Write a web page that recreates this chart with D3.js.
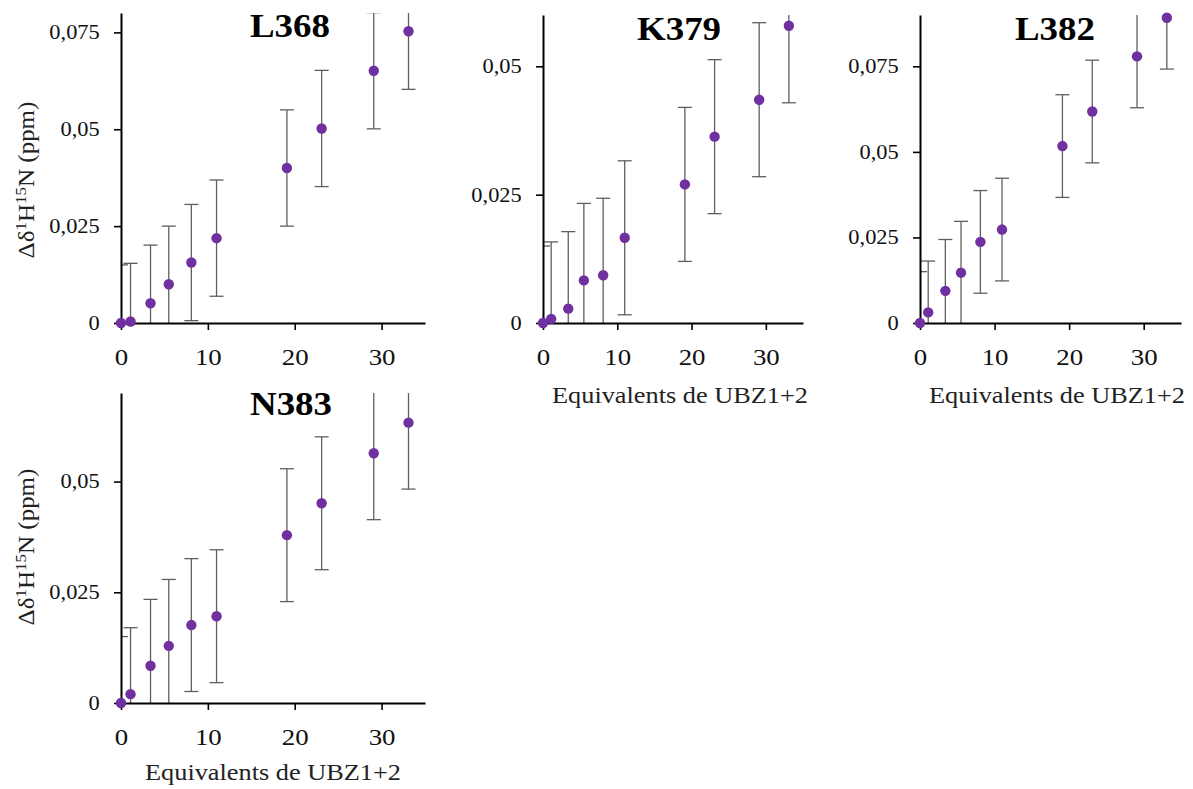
<!DOCTYPE html>
<html>
<head>
<meta charset="utf-8">
<script src="https://cdn.jsdelivr.net/npm/d3@7"></script>
<style>
  html, body { margin: 0; padding: 0; background: #fff; }
  svg { display: block; }
</style>
</head>
<body>
<script>
// ---------- data ----------
const equivalents = [0, 1.1, 3.4, 5.5, 8.1, 11, 19.1, 23.1, 29.1, 33.1];

const L368 = [0, 0.0004, 0.0051, 0.0100, 0.0156, 0.0219, 0.0400, 0.0502, 0.0651, 0.0753];
const K379 = [0, 0.0008, 0.0028, 0.0083, 0.0093, 0.0166, 0.0270, 0.0363, 0.0435, 0.0579];
const L382 = [0, 0.0031, 0.0094, 0.0147, 0.0237, 0.0273, 0.0517, 0.0618, 0.0779, 0.0892];
const N383 = [0, 0.0020, 0.0084, 0.0129, 0.0176, 0.0196, 0.0379, 0.0451, 0.0564, 0.0633];

const errL368 = [0.015, 0.015, 0.015, 0.015, 0.015, 0.015, 0.015, 0.015, 0.015, 0.015];
const errK379 = [0.015, 0.015, 0.015, 0.015, 0.015, 0.015, 0.015, 0.015, 0.015, 0.015];
const errL382 = [0.015, 0.015, 0.015, 0.015, 0.015, 0.015, 0.015, 0.015, 0.015, 0.015];
const errN383 = [0.015, 0.015, 0.015, 0.015, 0.015, 0.015, 0.015, 0.015, 0.015, 0.015];

const xTicks = [0, 10, 20, 30];
const yTicksL368 = [0, 0.025, 0.05, 0.075];
const yTicksK379 = [0, 0.025, 0.05];
const yTicksL382 = [0, 0.025, 0.05, 0.075];
const yTicksN383 = [0, 0.025, 0.05];

const xLabel = "Equivalents de UBZ1+2";

// ---------- layout ----------
const W = 1193, H = 789;
const panels = [
  { name: "L368", values: L368, err: errL368, yTicks: yTicksL368, yMax: 0.08,
    x0: 121, x1: 425, yTop: 13, yBot: 323, titleX: 290, titleY: 37,
    yLabel: true, yLabelX: 34, yLabelY: 180, xLabelShow: false },
  { name: "K379", values: K379, err: errK379, yTicks: yTicksK379, yMax: 0.06,
    x0: 543, x1: 803, yTop: 15, yBot: 323, titleX: 679, titleY: 40,
    yLabel: false, xLabelShow: true, xLabelX: 680, xLabelY: 403 },
  { name: "L382", values: L382, err: errL382, yTicks: yTicksL382, yMax: 0.09,
    x0: 920, x1: 1181, yTop: 15, yBot: 323, titleX: 1055, titleY: 40,
    yLabel: false, xLabelShow: true, xLabelX: 1057, xLabelY: 403 },
  { name: "N383", values: N383, err: errN383, yTicks: yTicksN383, yMax: 0.07,
    x0: 121, x1: 425, yTop: 393, yBot: 703, titleX: 291, titleY: 415,
    yLabel: true, yLabelX: 34, yLabelY: 547, xLabelShow: true, xLabelX: 273, xLabelY: 780 }
];

const FONT = "Liberation Serif";
const STRETCH = 1.12;
const DOT = "#7030A0";
const ERR = "#5f5f5f";

const locale = d3.formatLocale({ decimal: ",", thousands: ".", grouping: [3], currency: ["", ""] });
const fmt = locale.format("~g");

const svg = d3.select("body").append("svg").attr("width", W).attr("height", H);

panels.forEach((p, i) => {
  const x = d3.scaleLinear().domain([0, 35]).range([p.x0, p.x1]);
  const y = d3.scaleLinear().domain([0, p.yMax]).range([p.yBot, p.yTop]);
  const g = svg.append("g");

  const clipId = "clip" + i;
  svg.append("clipPath").attr("id", clipId).append("rect")
    .attr("x", x(0)).attr("y", y(p.yMax))
    .attr("width", x(35) - x(0)).attr("height", y(0) - y(p.yMax));

  // error bars
  const pts = equivalents.map((e, k) => ({ x: e, y: p.values[k], e: p.err[k] }));
  const eb = g.append("g").attr("clip-path", `url(#${clipId})`)
    .attr("stroke", ERR).attr("stroke-width", 1.3).attr("fill", "none");
  pts.forEach(d => {
    eb.append("line").attr("x1", x(d.x)).attr("x2", x(d.x))
      .attr("y1", y(d.y - d.e)).attr("y2", y(d.y + d.e));
    [d.y - d.e, d.y + d.e].forEach(v => {
      eb.append("line").attr("x1", x(d.x) - 7).attr("x2", x(d.x) + 7)
        .attr("y1", y(v)).attr("y2", y(v));
    });
  });

  // y axis
  const ya = g.append("g").attr("transform", `translate(${x(0)},0)`)
    .call(d3.axisLeft(y).tickValues(p.yTicks).tickSize(7).tickSizeOuter(0)
      .tickPadding(12).tickFormat(fmt));
  // x axis
  const xa = g.append("g").attr("transform", `translate(0,${y(0)})`)
    .call(d3.axisBottom(x).tickValues(xTicks).tickSize(7).tickSizeOuter(0)
      .tickPadding(18).tickFormat(d3.format("d")));

  [ya, xa].forEach(a => {
    a.select(".domain").attr("stroke", "#000").attr("stroke-width", 2);
    a.selectAll(".tick line").attr("stroke", "#000").attr("stroke-width", 1.6);
    a.selectAll(".tick text").attr("fill", "#111").attr("font-family", FONT)
      .attr("transform", `scale(${STRETCH},1)`);
  });
  ya.selectAll(".tick text").attr("font-size", 20);
  xa.selectAll(".tick text").attr("font-size", 24);

  // dots
  g.append("g").selectAll("circle").data(pts).join("circle")
    .attr("cx", d => x(d.x)).attr("cy", d => y(d.y)).attr("r", 5.2)
    .attr("fill", DOT);

  // title
  g.append("text")
    .attr("transform", `translate(${p.titleX},${p.titleY}) scale(${STRETCH},1)`)
    .attr("text-anchor", "middle").attr("font-family", FONT)
    .attr("font-weight", "bold").attr("font-size", 33).attr("fill", "#000")
    .text(p.name);

  // x label
  if (p.xLabelShow) {
    g.append("text")
      .attr("transform", `translate(${p.xLabelX},${p.xLabelY}) scale(${STRETCH},1)`)
      .attr("text-anchor", "middle").attr("font-family", FONT)
      .attr("font-size", 23.5).attr("fill", "#222").text(xLabel);
  }

  // y label
  if (p.yLabel) {
    const t = g.append("text")
      .attr("transform", `translate(${p.yLabelX},${p.yLabelY}) rotate(-90) scale(1,0.92)`)
      .attr("text-anchor", "middle").attr("font-family", FONT)
      .attr("font-size", 25).attr("fill", "#222");
    t.append("tspan").text("Δδ");
    t.append("tspan").attr("font-size", 17).attr("dy", -9).text("1");
    t.append("tspan").attr("dy", 9).text("H");
    t.append("tspan").attr("font-size", 17).attr("dy", -9).text("15");
    t.append("tspan").attr("dy", 9).text("N (ppm)");
  }
});
</script>
</body>
</html>
